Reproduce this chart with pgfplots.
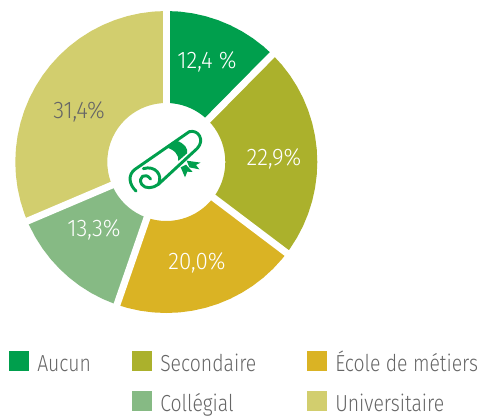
\documentclass[border=0pt]{standalone}
\usepackage{fontspec}
\setmainfont[FakeStretch=0.836,UprightFont={* Light}]{Fira Sans}
\newfontfamily\pct[FakeStretch=0.93,UprightFont={* Light}]{Fira Sans}
\usepackage{pgfplots}
\usepgfplotslibrary{polar}
\pgfplotsset{compat=1.18}
\definecolor{aucun}{HTML}{009F4D}
\definecolor{second}{HTML}{ABB12C}
\definecolor{ecole}{HTML}{DAB324}
\definecolor{coll}{HTML}{86BA84}
\definecolor{univ}{HTML}{D2CE6E}
\definecolor{txt}{HTML}{666666}
\newcommand{\colA}[1]{\makebox[71.25pt][l]{#1}}
\newcommand{\colB}[1]{\makebox[110.25pt][l]{#1}}
\begin{document}
\begin{tikzpicture}[x=0.75pt,y=-0.75pt]
\path (0,0) rectangle (481,416);
\begin{polaraxis}[
 at={(124.72pt,-121.5pt)},anchor=origin,
 scale only axis,width=226.5pt,height=226.5pt,
 xmin=0,xmax=360,ymin=0,ymax=151,
 hide axis,clip=false,
 legend columns=3,
 legend cell align=left,
 legend image code/.code={\fill[#1,draw=none] (0pt,-7.5pt) rectangle (15pt,7.5pt);},
 legend style={at={(-0.02,-0.126)},anchor=north west,draw=none,fill=none,inner sep=0pt,outer sep=0pt,
  font=\fontsize{17.4pt}{18pt}\selectfont\color{txt},
  nodes={inner sep=0pt,outer sep=0pt,text height=15pt,text depth=0pt},
  /tikz/column sep=0pt,/tikz/row sep=15.2pt},
]
\addplot[fill=aucun,draw=none] coordinates {(90,151)(85,151)(80,151)(75,151)(70,151)(65,151)(60,151)(55,151)(50,151)(45.36,151)
 (45.36,59)(50,59)(55,59)(60,59)(65,59)(70,59)(75,59)(80,59)(85,59)(90,59)};
\addlegendentry{\hspace{6pt}\colA{Aucun}}
\addplot[fill=second,draw=none] coordinates {(45.36,151)(40,151)(35,151)(30,151)(25,151)(20,151)(15,151)(10,151)(5,151)(0,151)(-5,151)(-10,151)(-15,151)(-20,151)(-25,151)(-30,151)(-35,151)(-37.08,151)
 (-37.08,59)(-35,59)(-30,59)(-25,59)(-20,59)(-15,59)(-10,59)(-5,59)(0,59)(5,59)(10,59)(15,59)(20,59)(25,59)(30,59)(35,59)(40,59)(45.36,59)};
\addlegendentry{\hspace{6pt}\colB{Secondaire}}
\addplot[fill=ecole,draw=none] coordinates {(-37.08,151)(-40,151)(-45,151)(-50,151)(-55,151)(-60,151)(-65,151)(-70,151)(-75,151)(-80,151)(-85,151)(-90,151)(-95,151)(-100,151)(-105,151)(-109.08,151)
 (-109.08,59)(-105,59)(-100,59)(-95,59)(-90,59)(-85,59)(-80,59)(-75,59)(-70,59)(-65,59)(-60,59)(-55,59)(-50,59)(-45,59)(-40,59)(-37.08,59)};
\addlegendentry{\hspace{6pt}École de métiers}
\addlegendimage{empty legend}
\addlegendentry{}
\addplot[fill=coll,draw=none] coordinates {(-109.08,151)(-110,151)(-115,151)(-120,151)(-125,151)(-130,151)(-135,151)(-140,151)(-145,151)(-150,151)(-155,151)(-156.96,151)
 (-156.96,59)(-155,59)(-150,59)(-145,59)(-140,59)(-135,59)(-130,59)(-125,59)(-120,59)(-115,59)(-110,59)(-109.08,59)};
\addlegendentry{\hspace{6pt}Collégial}
\addplot[fill=univ,draw=none] coordinates {(-156.96,151)(-160,151)(-165,151)(-170,151)(-175,151)(-180,151)(-185,151)(-190,151)(-195,151)(-200,151)(-205,151)(-210,151)(-215,151)(-220,151)(-225,151)(-230,151)(-235,151)(-240,151)(-245,151)(-250,151)(-255,151)(-260,151)(-265,151)(-270,151)
 (-270,59)(-265,59)(-260,59)(-255,59)(-250,59)(-245,59)(-240,59)(-235,59)(-230,59)(-225,59)(-220,59)(-215,59)(-210,59)(-205,59)(-200,59)(-195,59)(-190,59)(-185,59)(-180,59)(-175,59)(-170,59)(-165,59)(-160,59)(-156.96,59)};
\addlegendentry{\hspace{6pt}Universitaire}
% white gaps between the slices
\addplot[forget plot,white,line width=5.25pt] coordinates {(90,55)(90,156)};
\addplot[forget plot,white,line width=5.25pt] coordinates {(45.36,55)(45.36,156)};
\addplot[forget plot,white,line width=5.25pt] coordinates {(-37.08,55)(-37.08,156)};
\addplot[forget plot,white,line width=5.25pt] coordinates {(-109.08,55)(-109.08,156)};
\addplot[forget plot,white,line width=5.25pt] coordinates {(-156.96,55)(-156.96,156)};
\end{polaraxis}
% percentages
\begin{scope}[every node/.style={font=\pct\fontsize{18pt}{20pt}\selectfont,inner sep=0pt}]
\node[white] at (207,61.5) {12,4 \%};
\node[white] at (274,159) {22,9\%};
\node[white] at (197,263) {20,0\%};
\node[white] at (94,230) {13,3\%};
\node[txt] at (79,112) {31,4\%};
\end{scope}
% diploma icon
\begin{scope}[shift={(90,90)},x=0.25pt,y=-0.25pt,line width=2.2pt,line cap=round,line join=round]
\draw[aucun] (138,303) .. controls (118,285) and (112,255) .. (135,238) -- (298,125)
 .. controls (325,118) and (345,150) .. (322,175) -- (205,283)
 .. controls (190,295) and (165,298) .. (155,283) .. controls (143,262) and (165,245) .. (182,267);
\draw[aucun] (160,236) .. controls (195,225) and (220,255) .. (205,283);
\fill[aucun] (228,172) -- (260,152) .. controls (283,160) and (295,175) .. (291,190) -- (265,213) .. controls (268,195) and (252,178) .. (228,172) -- cycle;
\fill[aucun] (290,212) -- (332,218) -- (318,225) -- (328,238) -- (298,232) -- cycle;
\fill[aucun] (272,232) -- (288,224) -- (308,246) -- (292,245) -- (285,262) -- cycle;
\end{scope}
\end{tikzpicture}
\end{document}
